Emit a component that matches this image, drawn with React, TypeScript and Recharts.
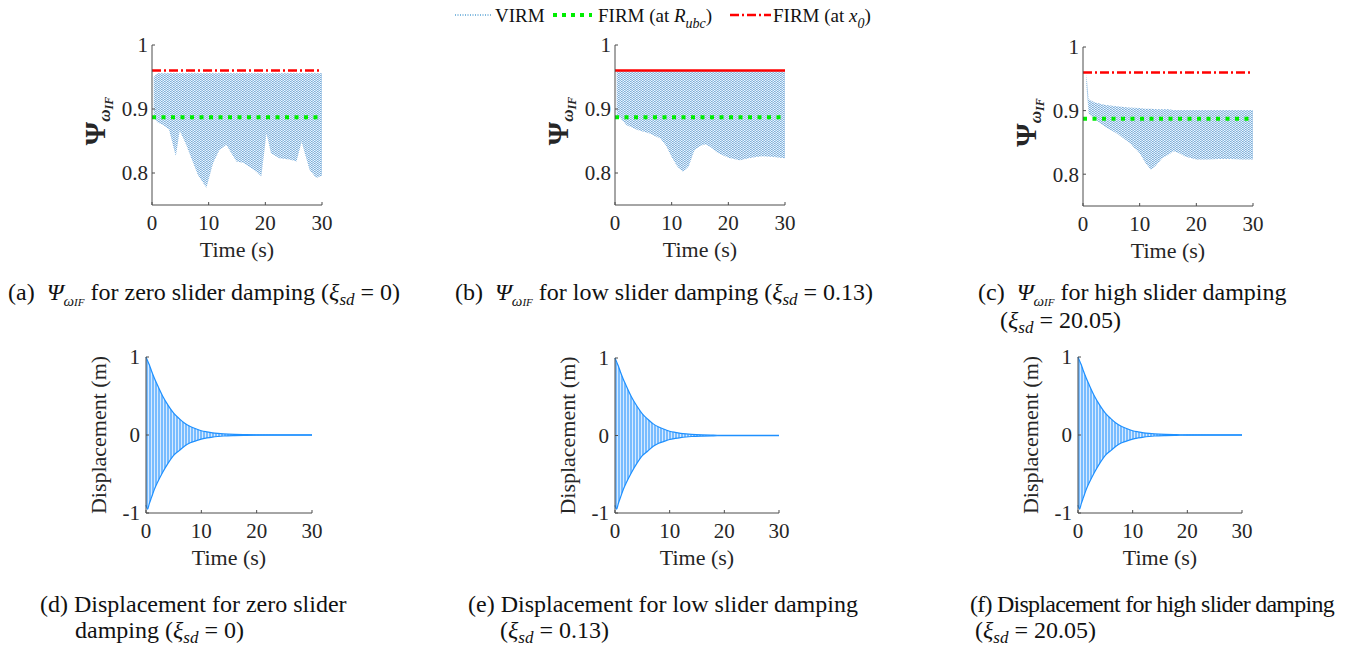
import React from "react";
import { Area, ComposedChart, ReferenceLine, XAxis, YAxis } from "recharts";

// shared axis values
const timeTicks = [0, 10, 20, 30];
const psiTicks = [0.8, 0.9, 1];
const dispTicks = [-1, 0, 1];
const firmAtX0 = 0.96;
const firmAtRubc = 0.887;

// (a) zero slider damping: VIRM envelope
const psiTimeA = [0.3, 1, 2, 3, 4.2, 4.9, 6, 7, 8.1, 9.6, 10.8, 11.9, 13.1, 14.9, 16.1, 17.8, 19.3, 20.2, 21, 22.5, 24.3, 25.5, 26.4, 27.8, 29, 30];
const psiLowA = [0.887, 0.879, 0.875, 0.868, 0.826, 0.866, 0.845, 0.822, 0.797, 0.777, 0.816, 0.836, 0.844, 0.818, 0.816, 0.806, 0.795, 0.862, 0.831, 0.823, 0.821, 0.818, 0.849, 0.805, 0.792, 0.796];
const psiHighA = [0.95, 0.956, 0.956, 0.956, 0.956, 0.956, 0.956, 0.956, 0.956, 0.956, 0.956, 0.956, 0.956, 0.956, 0.956, 0.956, 0.956, 0.956, 0.956, 0.956, 0.956, 0.956, 0.956, 0.956, 0.956, 0.956];

// (b) low slider damping
const psiTimeB = [0.3, 1, 2, 4, 6, 8, 9, 10, 11, 12, 13, 14, 15, 16, 17, 18, 20, 22, 24, 26, 28, 30];
const psiLowB = [0.89, 0.885, 0.875, 0.867, 0.862, 0.854, 0.843, 0.825, 0.81, 0.802, 0.81, 0.835, 0.842, 0.845, 0.84, 0.832, 0.824, 0.82, 0.824, 0.826, 0.825, 0.823];
const psiHighB = [0.96, 0.96, 0.96, 0.96, 0.96, 0.96, 0.96, 0.96, 0.96, 0.96, 0.96, 0.96, 0.96, 0.96, 0.96, 0.96, 0.96, 0.96, 0.96, 0.96, 0.96, 0.96];

// (c) high slider damping
const psiTimeC = [0.6, 1, 2, 4, 6, 8, 10, 11, 12, 13, 14, 15, 16, 17, 18, 20, 22, 24, 26, 28, 30];
const psiLowC = [0.94, 0.895, 0.887, 0.874, 0.864, 0.851, 0.833, 0.818, 0.807, 0.815, 0.825, 0.83, 0.836, 0.833, 0.828, 0.823, 0.823, 0.824, 0.824, 0.823, 0.823];
const psiHighC = [0.958, 0.918, 0.913, 0.909, 0.907, 0.905, 0.904, 0.903, 0.903, 0.902, 0.902, 0.902, 0.901, 0.901, 0.901, 0.901, 0.901, 0.901, 0.901, 0.901, 0.901];

// (d)-(f) displacement envelope (the three runs look the same)
const dispTime = [0, 0.3, 0.6, 1, 1.5, 2, 3, 4, 5, 6, 7, 8, 9, 10, 11, 12, 13, 14, 16, 18, 20, 25, 30];
const dispUpper = [1.0, 0.95, 0.9, 0.82, 0.73, 0.65, 0.5, 0.38, 0.28, 0.21, 0.15, 0.11, 0.08, 0.055, 0.04, 0.028, 0.02, 0.014, 0.007, 0.004, 0.002, 0.001, 0.001];
const dispLower = [-0.9, -0.95, -0.88, -0.8, -0.7, -0.62, -0.48, -0.36, -0.26, -0.2, -0.14, -0.1, -0.075, -0.052, -0.038, -0.027, -0.019, -0.013, -0.007, -0.004, -0.002, -0.001, -0.001];

const toRows = (time: number[], low: number[], high: number[]) =>
  time.map((t, i) => ({ t, band: [low[i], high[i]] }));

const SERIF = '"Liberation Serif", "Times New Roman", serif';
const INK = "#262626";
const BOX = "#4d4d4d";
const PAD_L = 75;
const PAD_T = 12;
const PAD_R = 14;
const PAD_B = 62;

const tickFont = { fill: INK, fontSize: 21, fontFamily: SERIF };
const blank = () => "";

function TimeTitle({ w, h }: { w: number; h: number }) {
  return (
    <text x={PAD_L + w / 2} y={PAD_T + h + 44} textAnchor="middle" dominantBaseline="central" fill={INK} fontSize={22} fontFamily={SERIF}>
      Time (s)
    </text>
  );
}

function PsiPanel({ left, top, w, h, rows, id, redSolid }: any) {
  return (
    <div style={{ position: "absolute", left: left - PAD_L, top: top - PAD_T }}>
      <ComposedChart width={w + PAD_L + PAD_R} height={h + PAD_T + PAD_B} data={rows} margin={{ top: PAD_T, right: PAD_R, bottom: 0, left: 0 }}>
        <defs>
          <pattern id={id} width="3" height="2" patternUnits="userSpaceOnUse">
            <rect x="0" y="0" width="3" height="2" fill="#e3eef8" />
            <rect x="0" y="0" width="1.6" height="1" fill="#1f74c0" />
            <rect x="1.5" y="1" width="1.5" height="1" fill="#3a8ad0" />
          </pattern>
        </defs>
        <XAxis dataKey="t" type="number" domain={[0, 30]} ticks={timeTicks} interval={0} height={PAD_B}
          tickSize={-3} tickMargin={13} tick={tickFont} axisLine={{ stroke: BOX }} tickLine={{ stroke: BOX }}
          label={() => <TimeTitle w={w} h={h} />} />
        <XAxis xAxisId="top" orientation="top" type="number" domain={[0, 30]} ticks={timeTicks} interval={0} height={0}
          tickSize={-3} tickFormatter={blank} axisLine={{ stroke: BOX }} tickLine={{ stroke: BOX }} />
        <YAxis type="number" domain={[0.75, 1]} ticks={psiTicks} interval={0} width={PAD_L}
          tickSize={-3} tickMargin={7} tick={tickFont} axisLine={{ stroke: BOX }} tickLine={{ stroke: BOX }}
          tickFormatter={(v: number) => String(v)}
          label={() => (
            <text transform={`translate(28, ${PAD_T + h / 2 - 4}) rotate(-90)`} textAnchor="middle" fill={INK} fontFamily={SERIF} fontWeight="bold">
              <tspan fontSize={30}>Ψ</tspan>
              <tspan fontSize={17} fontStyle="italic" dy={5}>ω</tspan>
              <tspan fontSize={12} fontStyle="italic" dy={3}>IF</tspan>
            </text>
          )} />
        <YAxis yAxisId="right" orientation="right" type="number" domain={[0.75, 1]} ticks={psiTicks} interval={0} width={0}
          tickSize={-3} tickFormatter={blank} axisLine={{ stroke: BOX }} tickLine={{ stroke: BOX }} />
        <Area dataKey="band" type="linear" stroke="none" fill={`url(#${id})`} isAnimationActive={false} />
        <ReferenceLine y={firmAtRubc} stroke="#00ee00" strokeWidth={4} strokeDasharray="4 5.5" />
        <ReferenceLine y={firmAtX0} stroke="#ff0000" strokeWidth={2.5} strokeDasharray={redSolid ? undefined : "9 3 2 3"} />
      </ComposedChart>
    </div>
  );
}

function DispPanel({ left, top, w, h, rows, id }: any) {
  return (
    <div style={{ position: "absolute", left: left - PAD_L, top: top - PAD_T }}>
      <ComposedChart width={w + PAD_L + PAD_R} height={h + PAD_T + PAD_B} data={rows} margin={{ top: PAD_T, right: PAD_R, bottom: 0, left: 0 }}>
        <defs>
          <pattern id={id} width="3" height="10" patternUnits="userSpaceOnUse">
            <rect x="0" y="0" width="3" height="10" fill="#bcdcff" />
            <rect x="0" y="0" width="2" height="10" fill="#1E90FF" />
          </pattern>
        </defs>
        <XAxis dataKey="t" type="number" domain={[0, 30]} ticks={timeTicks} interval={0} height={PAD_B}
          tickSize={-3} tickMargin={13} tick={tickFont} axisLine={{ stroke: BOX }} tickLine={{ stroke: BOX }}
          label={() => <TimeTitle w={w} h={h} />} />
        <XAxis xAxisId="top" orientation="top" type="number" domain={[0, 30]} ticks={timeTicks} interval={0} height={0}
          tickSize={-3} tickFormatter={blank} axisLine={{ stroke: BOX }} tickLine={{ stroke: BOX }} />
        <YAxis type="number" domain={[-1, 1]} ticks={dispTicks} interval={0} width={PAD_L}
          tickSize={-3} tickMargin={9} tick={tickFont} axisLine={{ stroke: BOX }} tickLine={{ stroke: BOX }}
          label={() => (
            <text transform={`translate(27, ${PAD_T + h / 2}) rotate(-90)`} textAnchor="middle" dominantBaseline="central" fill={INK} fontSize={22} fontFamily={SERIF}>
              Displacement (m)
            </text>
          )} />
        <YAxis yAxisId="right" orientation="right" type="number" domain={[-1, 1]} ticks={dispTicks} interval={0} width={0}
          tickSize={-3} tickFormatter={blank} axisLine={{ stroke: BOX }} tickLine={{ stroke: BOX }} />
        <Area dataKey="band" type="monotone" stroke="#1E90FF" strokeWidth={1.2} fill={`url(#${id})`} isAnimationActive={false} />
      </ComposedChart>
    </div>
  );
}

function PsiSym() {
  return (
    <>
      <i>Ψ</i>
      <sub style={{ fontSize: 15, fontStyle: "italic", verticalAlign: -6 }}>ω<span style={{ fontSize: 11 }}>IF</span></sub>
    </>
  );
}

function Xi({ v }: { v: string }) {
  return (
    <>
      (<i>ξ</i>
      <sub style={{ fontSize: 17, fontStyle: "italic", verticalAlign: -5 }}>sd</sub> = {v})
    </>
  );
}

const capStyle: React.CSSProperties = {
  position: "absolute",
  fontFamily: SERIF,
  fontSize: 24,
  lineHeight: "26px",
  color: "#111",
  whiteSpace: "nowrap",
};

function Legend() {
  const t = { fontFamily: SERIF, fontSize: 19, fill: "#111" };
  return (
    <svg width={1352} height={36} style={{ position: "absolute", left: 0, top: 0 }}>
      <line x1={455} x2={491} y1={15} y2={15} stroke="#0072BD" strokeWidth={1} strokeDasharray="1 1.5" />
      <text x={495} y={22} {...t}>VIRM</text>
      <line x1={553} x2={592} y1={15} y2={15} stroke="#00ee00" strokeWidth={4} strokeDasharray="4 5" />
      <text x={598} y={22} {...t}>
        FIRM (at <tspan fontStyle="italic">R</tspan>
        <tspan fontStyle="italic" fontSize={14} dy={6}>ubc</tspan>
        <tspan dy={-6}>)</tspan>
      </text>
      <line x1={730} x2={771} y1={15} y2={15} stroke="#ff0000" strokeWidth={2.5} strokeDasharray="9 3 2 3" />
      <text x={773} y={22} {...t}>
        FIRM (at <tspan fontStyle="italic">x</tspan>
        <tspan fontStyle="italic" fontSize={14} dy={6}>0</tspan>
        <tspan dy={-6}>)</tspan>
      </text>
    </svg>
  );
}

export default function App() {
  const rowsA = toRows(psiTimeA, psiLowA, psiHighA);
  const rowsB = toRows(psiTimeB, psiLowB, psiHighB);
  const rowsC = toRows(psiTimeC, psiLowC, psiHighC);
  const rowsD = toRows(dispTime, dispLower, dispUpper);
  return (
    <div style={{ position: "absolute", left: 0, top: 0, width: 1352, height: 651, background: "#fff", overflow: "hidden" }}>
      <Legend />
      <PsiPanel left={152} top={45} w={170} h={160} rows={rowsA} id="virmA" />
      <PsiPanel left={615} top={45} w={170} h={160} rows={rowsB} id="virmB" redSolid />
      <PsiPanel left={1083} top={47} w={170} h={159} rows={rowsC} id="virmC" />
      <DispPanel left={146} top={357} w={166} h={156} rows={rowsD} id="dispD" />
      <DispPanel left={615} top={358} w={164} h={155} rows={rowsD} id="dispE" />
      <DispPanel left={1078} top={357} w={164} h={156} rows={rowsD} id="dispF" />

      <div style={{ ...capStyle, left: 8, top: 279 }}>(a)&nbsp; <PsiSym /> for zero slider damping <Xi v="0" /></div>
      <div style={{ ...capStyle, left: 455, top: 279 }}>(b)&nbsp; <PsiSym /> for low slider damping <Xi v="0.13" /></div>
      <div style={{ ...capStyle, left: 978, top: 279 }}>(c)&nbsp; <PsiSym /> for high slider damping</div>
      <div style={{ ...capStyle, left: 1000, top: 307 }}><Xi v="20.05" /></div>

      <div style={{ ...capStyle, left: 40, top: 591 }}>(d) Displacement for zero slider</div>
      <div style={{ ...capStyle, left: 75, top: 617 }}>damping <Xi v="0" /></div>
      <div style={{ ...capStyle, left: 468, top: 591 }}>(e) Displacement for low slider damping</div>
      <div style={{ ...capStyle, left: 500, top: 617 }}><Xi v="0.13" /></div>
      <div style={{ ...capStyle, left: 970, top: 591, letterSpacing: -0.75 }}>(f) Displacement for high slider damping</div>
      <div style={{ ...capStyle, left: 975, top: 617 }}><Xi v="20.05" /></div>
    </div>
  );
}
